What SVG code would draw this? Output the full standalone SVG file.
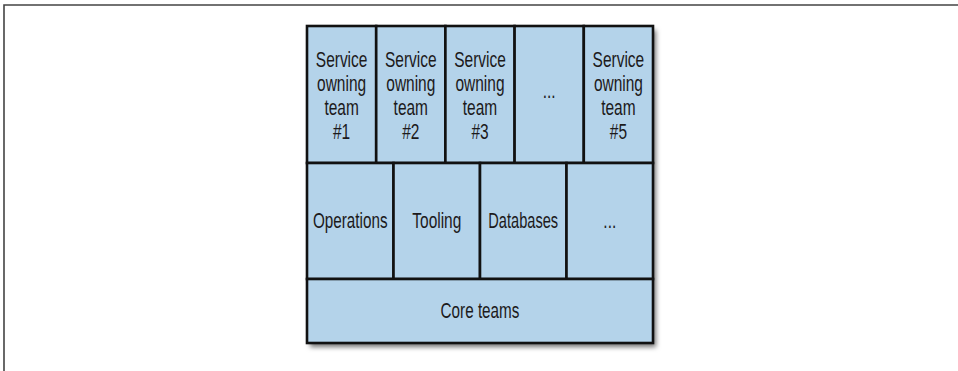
<svg xmlns="http://www.w3.org/2000/svg" width="958" height="371" viewBox="0 0 958 371">
<style>
.cell{fill:#b4d3ea;stroke:#111;stroke-width:2.6}
.t{font-family:"Liberation Sans",Arial,sans-serif;font-size:21.5px;fill:#1c1a1b;text-anchor:middle}
</style>
<defs>
<filter id="sh" x="-10%" y="-10%" width="130%" height="130%">
<feDropShadow dx="3" dy="4" stdDeviation="2.5" flood-color="#000" flood-opacity="0.55"/>
</filter>
</defs>
<rect x="0" y="0" width="958" height="371" fill="#fff"/>
<path d="M4 371 V5 H958" fill="none" stroke="#444" stroke-width="1.6"/>
<rect x="307" y="26" width="346" height="317" fill="#b4d3ea" filter="url(#sh)"/>
<g id="svc1"><rect class="cell" x="307" y="26" width="69.2" height="137"/><text class="t" transform="translate(341.6 0) scale(0.72 1)"><tspan x="0" y="67.5">Service</tspan><tspan x="0" y="91.5">owning</tspan><tspan x="0" y="115.5">team</tspan><tspan x="0" y="139">#1</tspan></text></g>
<g id="svc2"><rect class="cell" x="376.2" y="26" width="69.2" height="137"/><text class="t" transform="translate(410.8 0) scale(0.72 1)"><tspan x="0" y="67.5">Service</tspan><tspan x="0" y="91.5">owning</tspan><tspan x="0" y="115.5">team</tspan><tspan x="0" y="139">#2</tspan></text></g>
<g id="svc3"><rect class="cell" x="445.4" y="26" width="69.2" height="137"/><text class="t" transform="translate(480 0) scale(0.72 1)"><tspan x="0" y="67.5">Service</tspan><tspan x="0" y="91.5">owning</tspan><tspan x="0" y="115.5">team</tspan><tspan x="0" y="139">#3</tspan></text></g>
<g id="svc4"><rect class="cell" x="514.6" y="26" width="69.2" height="137"/><text class="t" transform="translate(549.2 0) scale(0.72 1)" x="0" y="98">...</text></g>
<g id="svc5"><rect class="cell" x="583.8" y="26" width="69.2" height="137"/><text class="t" transform="translate(618.4 0) scale(0.72 1)"><tspan x="0" y="67.5">Service</tspan><tspan x="0" y="91.5">owning</tspan><tspan x="0" y="115.5">team</tspan><tspan x="0" y="139">#5</tspan></text></g>
<g id="ops"><rect class="cell" x="307" y="163" width="86.5" height="116"/><text class="t" transform="translate(350.2 0) scale(0.71 1)" x="0" y="228.5">Operations</text></g>
<g id="tooling"><rect class="cell" x="393.5" y="163" width="86.5" height="116"/><text class="t" transform="translate(436.8 0) scale(0.72 1)" x="0" y="228.5">Tooling</text></g>
<g id="db"><rect class="cell" x="480" y="163" width="86.5" height="116"/><text class="t" transform="translate(523.2 0) scale(0.68 1)" x="0" y="228.5">Databases</text></g>
<g id="more"><rect class="cell" x="566.5" y="163" width="86.5" height="116"/><text class="t" transform="translate(609.8 0) scale(0.72 1)" x="0" y="228.5">...</text></g>
<g id="core"><rect class="cell" x="307" y="279" width="346" height="64"/><text class="t" transform="translate(480 0) scale(0.71 1)" x="0" y="318.5">Core teams</text></g>
<g id="connectors"></g>
</svg>
